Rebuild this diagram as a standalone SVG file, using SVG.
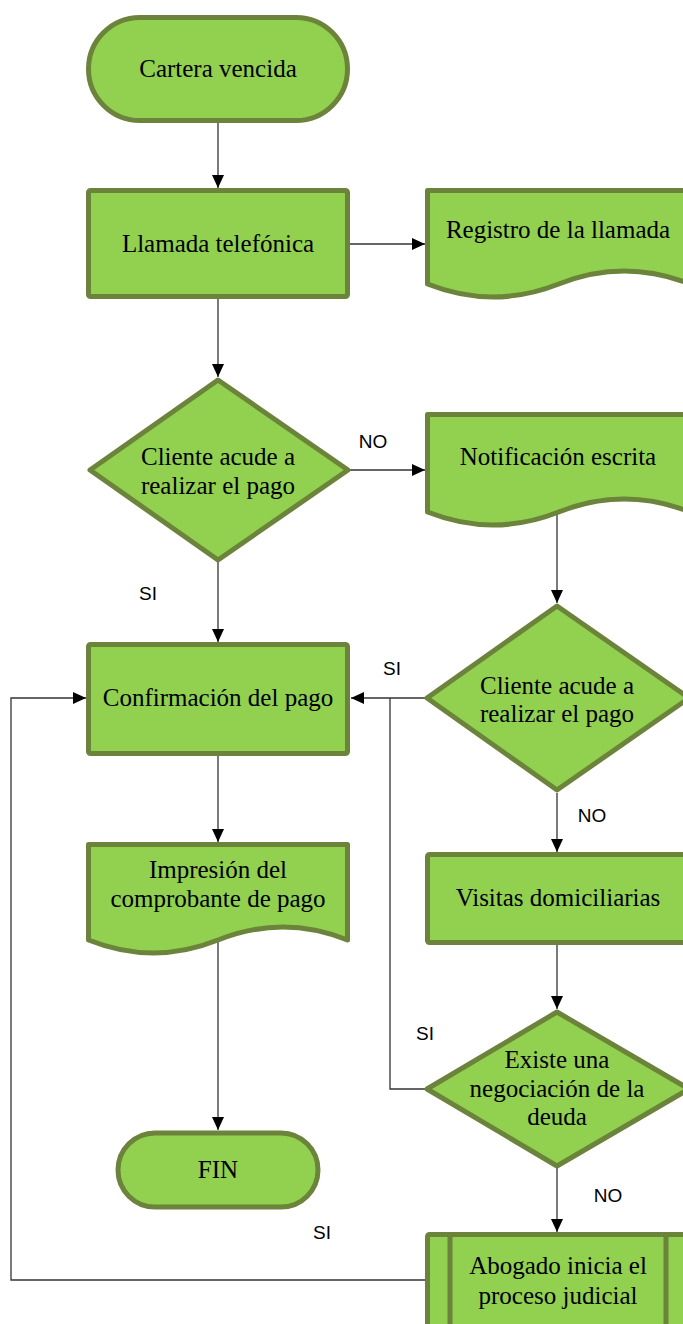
<svg xmlns="http://www.w3.org/2000/svg" width="683" height="1324" viewBox="0 0 683 1324">
<style>
.s{fill:#92D050;stroke:#6B833A;stroke-width:5;stroke-linejoin:round}
.t{font-family:"Liberation Serif","Times New Roman",serif;font-size:25px;fill:#000;text-anchor:middle}
.l{font-family:"Liberation Sans",Arial,sans-serif;font-size:19px;fill:#000;text-anchor:middle}
.c{fill:none;stroke:#333;stroke-width:1.3}
.a{marker-end:url(#arr)}
</style>
<defs>
<marker id="arr" markerUnits="userSpaceOnUse" markerWidth="14" markerHeight="13" refX="13" refY="6" orient="auto">
<path d="M0,0 L13,6 L0,12 Z" fill="#000"/>
</marker>
</defs>
<g id="connectors">
<path class="c a" d="M218,122 V188"/>
<path class="c a" d="M218,298 V377"/>
<path class="c a" d="M350,244 H425"/>
<path class="c a" d="M349,470 H425"/>
<path class="c a" d="M557,512 V603"/>
<path class="c a" d="M218,562 V642"/>
<path class="c a" d="M425,698 H351"/>
<path class="c a" d="M557,793 V852"/>
<path class="c a" d="M218,755 V842"/>
<path class="c a" d="M557,945 V1009"/>
<path class="c a" d="M218,940 V1130"/>
<path class="c" d="M425,1089 H390 V698"/>
<path class="c a" d="M557,1168 V1232"/>
<path class="c a" d="M425,1280 H11 V698 H86"/>
</g>
<g id="n-cartera">
<rect class="s" x="88.5" y="17.5" width="259" height="103" rx="51.5"/>
<text class="t" x="218" y="77">Cartera vencida</text>
</g>
<g id="n-llamada">
<rect class="s" x="88.5" y="190.5" width="259" height="106" rx="2"/>
<text class="t" x="218" y="252">Llamada telefónica</text>
</g>
<g id="n-registro">
<path class="s" d="M427.5,190.5 H690 V284 C646.25,266.7 602.5,266.7 558.75,284 C515,301.3 471.25,301.3 427.5,284 Z"/>
<text class="t" x="558" y="238">Registro de la llamada</text>
</g>
<g id="n-decision1">
<polygon class="s" points="218,380 348,470 218,560 90,470"/>
<text class="t" x="218" y="465">Cliente acude a</text>
<text class="t" x="218" y="494">realizar el pago</text>
</g>
<g id="n-notificacion">
<path class="s" d="M427.5,414.5 H690 V512 C646.25,494.7 602.5,494.7 558.75,512 C515,529.3 471.25,529.3 427.5,512 Z"/>
<text class="t" x="558" y="465">Notificación escrita</text>
</g>
<g id="n-decision2">
<polygon class="s" points="557,606 689,698 557,790 427,698"/>
<text class="t" x="557" y="694">Cliente acude a</text>
<text class="t" x="557" y="722">realizar el pago</text>
</g>
<g id="n-confirmacion">
<rect class="s" x="88.5" y="644.5" width="259" height="109" rx="2"/>
<text class="t" x="218" y="706">Confirmación del pago</text>
</g>
<g id="n-impresion">
<path class="s" d="M88.5,844.5 H347.5 V940 C304.3,922.7 261.2,922.7 218,940 C174.8,957.3 131.7,957.3 88.5,940 Z"/>
<text class="t" x="218" y="878">Impresión del</text>
<text class="t" x="218" y="907">comprobante de pago</text>
</g>
<g id="n-visitas">
<rect class="s" x="427.5" y="854.5" width="262.5" height="88" rx="2"/>
<text class="t" x="558" y="906">Visitas domiciliarias</text>
</g>
<g id="n-decision3">
<polygon class="s" points="557,1012 689,1089 557,1166 427,1089"/>
<text class="t" x="557" y="1068">Existe una</text>
<text class="t" x="557" y="1097">negociación de la</text>
<text class="t" x="557" y="1125">deuda</text>
</g>
<g id="n-fin">
<rect class="s" x="118" y="1133" width="200" height="74" rx="37"/>
<text class="t" x="218" y="1178">FIN</text>
</g>
<g id="n-abogado">
<rect class="s" x="427.5" y="1234.5" width="262.5" height="110" rx="2"/>
<path class="s" d="M450,1234.5 V1344.5 M666,1234.5 V1344.5" fill="none"/>
<text class="t" x="558" y="1274">Abogado inicia el</text>
<text class="t" x="558" y="1304">proceso judicial</text>
</g>
<g id="labels">
<text class="l" x="373" y="448">NO</text>
<text class="l" x="148" y="600">SI</text>
<text class="l" x="392" y="675">SI</text>
<text class="l" x="592" y="822">NO</text>
<text class="l" x="425" y="1040">SI</text>
<text class="l" x="608" y="1202">NO</text>
<text class="l" x="322" y="1239">SI</text>
</g>
</svg>
